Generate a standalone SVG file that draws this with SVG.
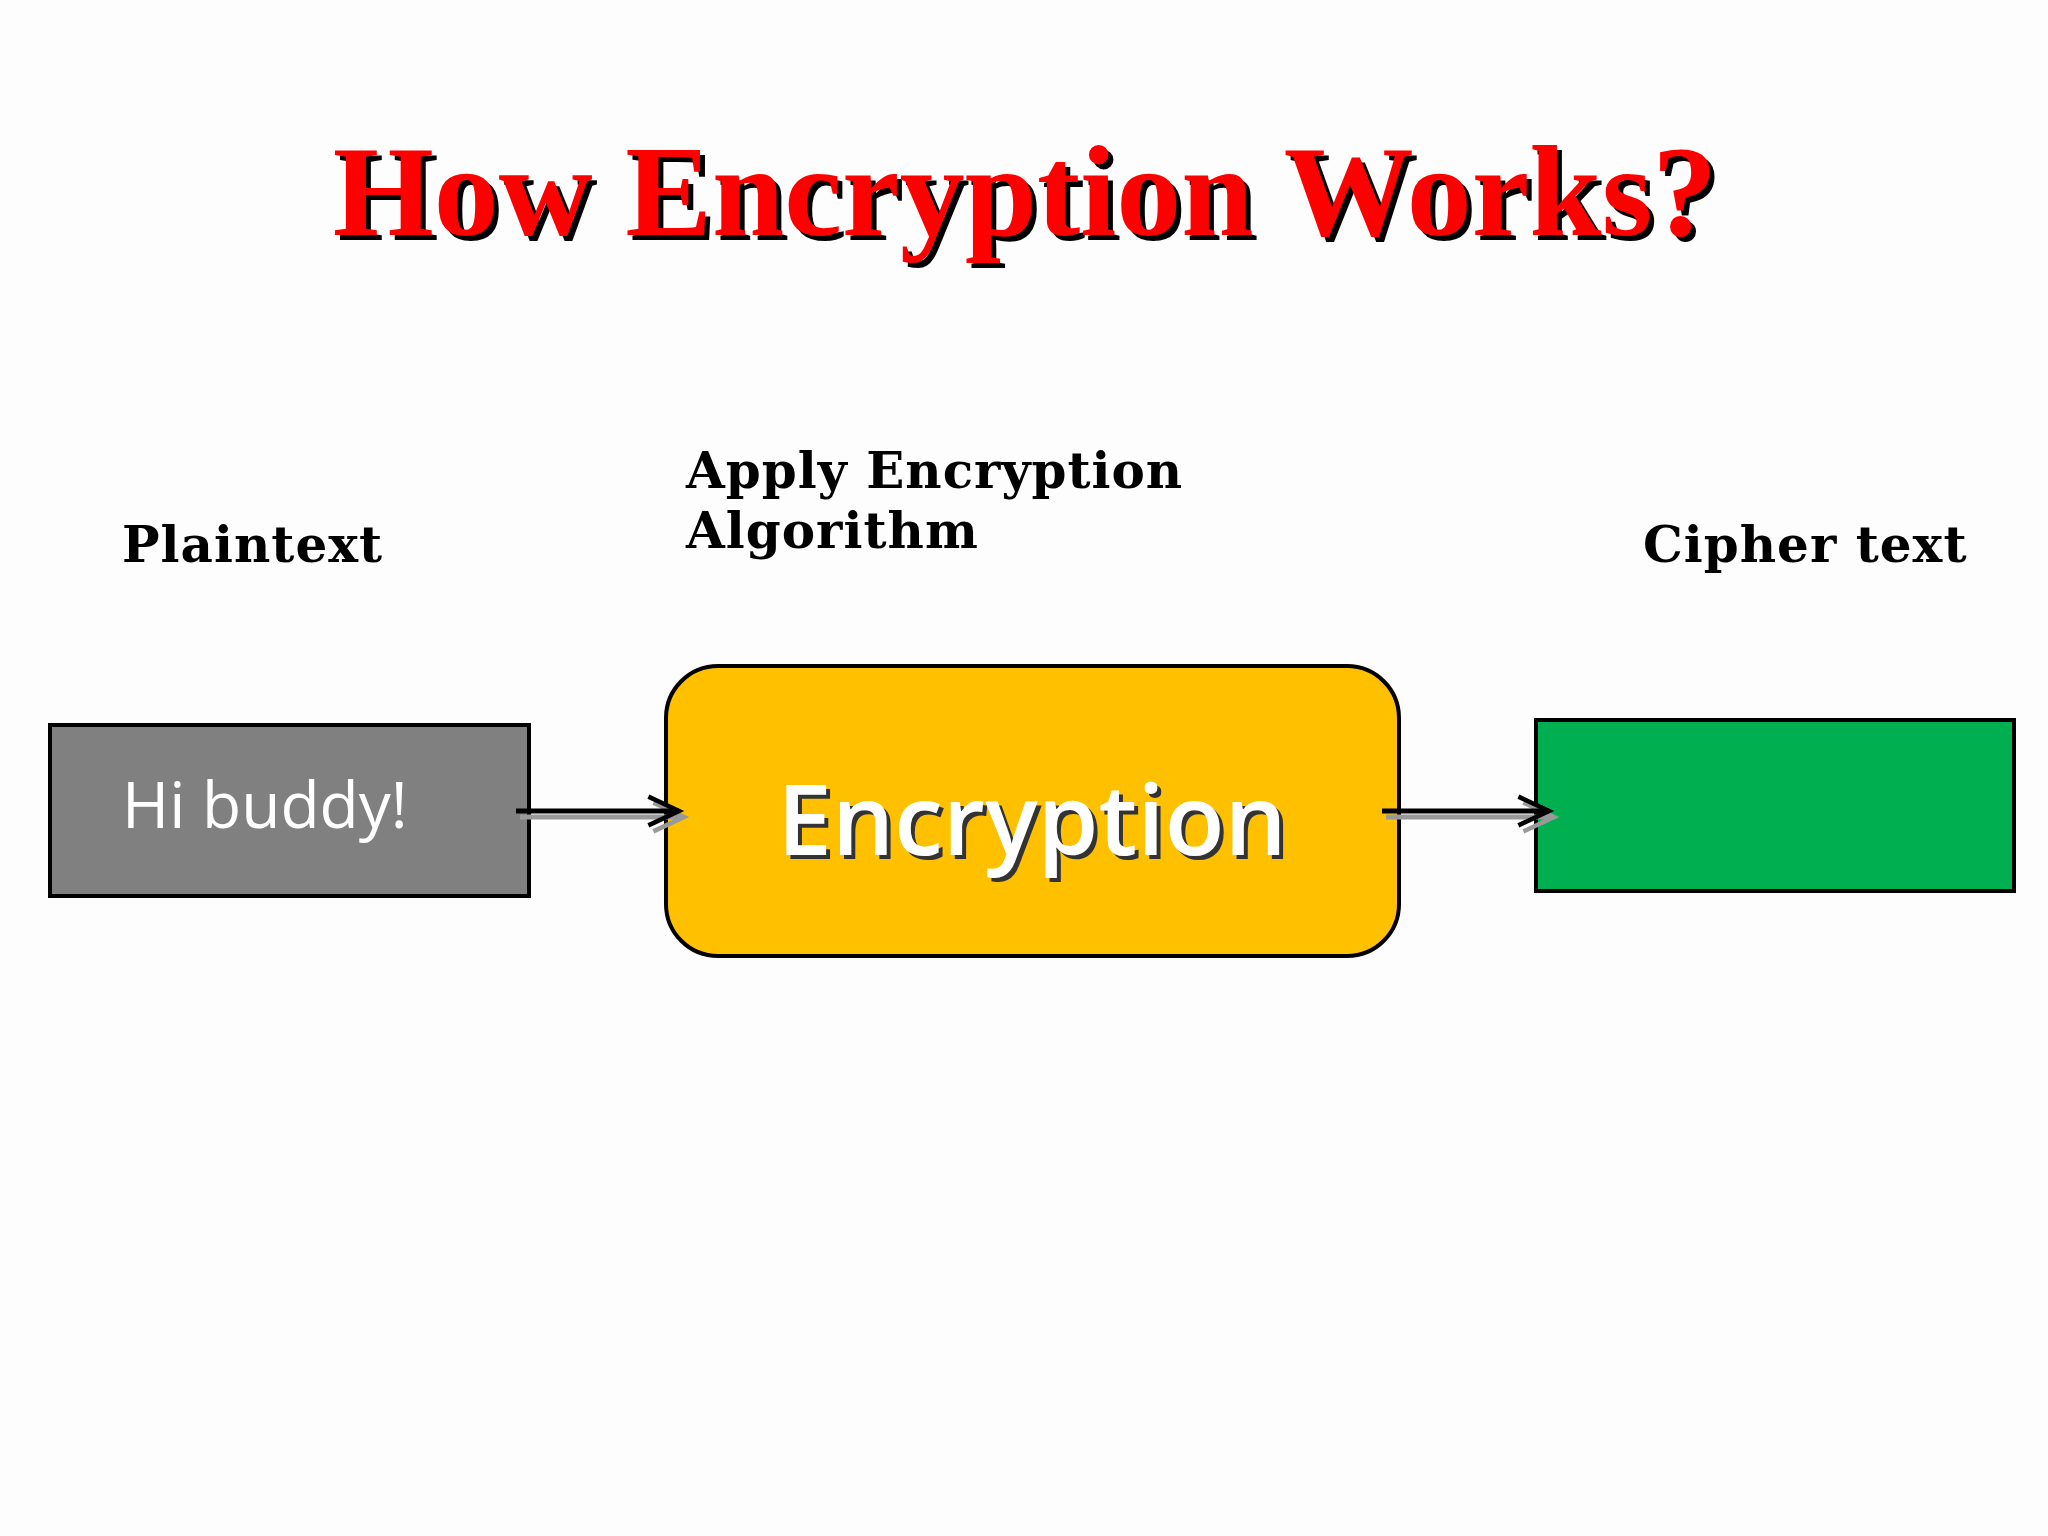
<svg xmlns="http://www.w3.org/2000/svg" width="2048" height="1536" viewBox="0 0 2048 1536">
<style>
.lbl{font-family:"DejaVu Serif","Liberation Serif",serif;font-weight:bold;font-size:50px;fill:#000;letter-spacing:1px}
.box{stroke:#000;stroke-width:4}
</style>
<defs>
<marker id="ah" viewBox="0 0 20 20" refX="19" refY="10" markerWidth="36" markerHeight="36" markerUnits="userSpaceOnUse" orient="auto" overflow="visible">
<path d="M2,2 L19,10 L2,18" fill="none" stroke="#000" stroke-width="2.5"/>
</marker>
<marker id="ahs" viewBox="0 0 20 20" refX="19" refY="10" markerWidth="36" markerHeight="36" markerUnits="userSpaceOnUse" orient="auto" overflow="visible">
<path d="M2,2 L19,10 L2,18" fill="none" stroke="#999" stroke-width="2.5"/>
</marker>
</defs>
<rect width="2048" height="1536" fill="#fdfdfd"/>
<g id="title" font-family="Liberation Serif,serif" font-weight="bold" font-size="130" text-anchor="middle">
<text x="1030" y="240" fill="#000">How Encryption Works?</text>
<text x="1025" y="235" fill="#ff0000">How Encryption Works?</text>
</g>
<g id="labels">
<text class="lbl" x="122" y="562">Plaintext</text>
<text class="lbl" x="686" y="488">Apply Encryption</text>
<text class="lbl" x="686" y="548">Algorithm</text>
<text class="lbl" x="1643" y="562">Cipher text</text>
</g>
<g id="plaintext">
<rect class="box" x="50" y="725" width="479" height="171" fill="#808080"/>
<text x="122" y="828" font-family="Open Sans,sans-serif" font-size="64" fill="#fff">Hi buddy!</text>
</g>
<g id="encryption">
<rect class="box" x="666" y="666" width="733" height="290" rx="52" fill="#FFC000"/>
<text x="1036" y="859" text-anchor="middle" font-family="Open Sans,sans-serif" font-weight="600" font-size="98" fill="#333">Encryption</text>
<text x="1032" y="855" text-anchor="middle" font-family="Open Sans,sans-serif" font-weight="600" font-size="98" fill="#fff">Encryption</text>
</g>
<g id="ciphertext">
<rect class="box" x="1536" y="720" width="478" height="171" fill="#00B050"/>
</g>
<g id="connectors" fill="none" stroke-width="5">
<line x1="520" y1="817" x2="684" y2="817" stroke="#999" marker-end="url(#ahs)"/>
<line x1="516" y1="811" x2="679" y2="811" stroke="#000" marker-end="url(#ah)"/>
<line x1="1386" y1="817" x2="1554" y2="817" stroke="#999" marker-end="url(#ahs)"/>
<line x1="1382" y1="811" x2="1549" y2="811" stroke="#000" marker-end="url(#ah)"/>
</g>
</svg>
